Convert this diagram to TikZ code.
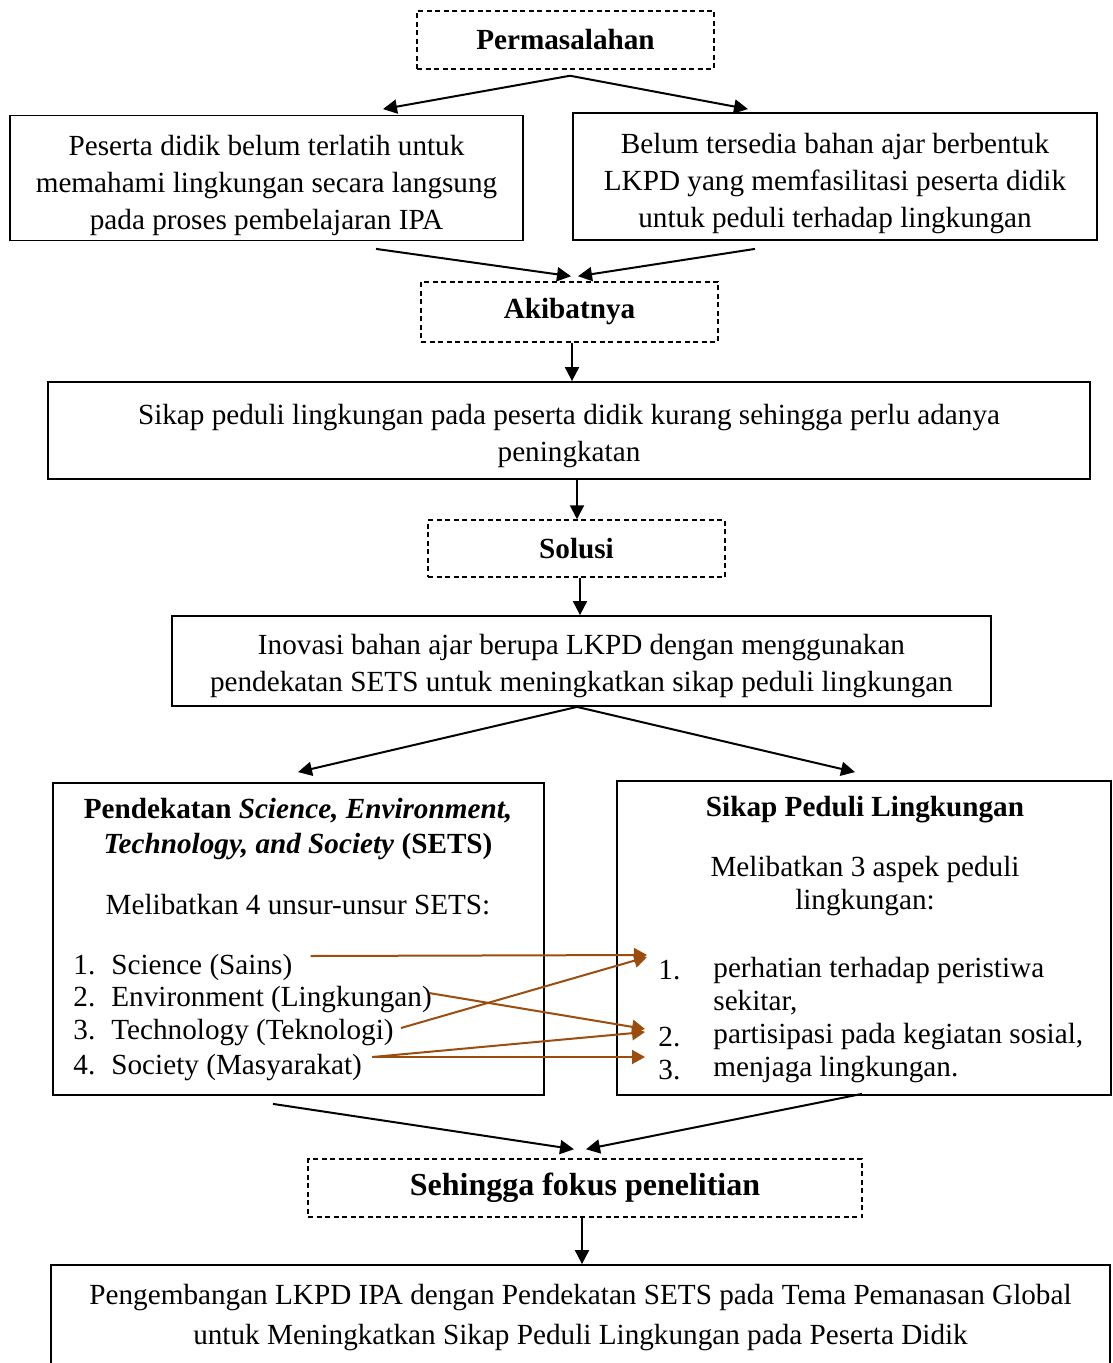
\documentclass[tikz,border=0pt]{standalone}
\usepackage{fontspec}
\setmainfont{Liberation Serif}
\usetikzlibrary{calc,arrows.meta}
\definecolor{coklat}{RGB}{156,77,14}
\newcommand{\turun}[1]{\rule{0pt}{#1}}

\begin{document}
\begin{tikzpicture}[x=0.5pt,y=-0.5pt,
    font=\fontsize{14.6}{18.5}\selectfont,
    kotak/.style={draw, line width=0.9pt, inner sep=0pt, align=center},
    kotakputus/.style={kotak, line width=0.75pt, dash pattern=on 2.5pt off 1.75pt, font=\fontsize{14.6}{18.5}\selectfont\bfseries},
    teks/.style={inner sep=0pt, align=center},
    panahhitam/.style={line width=1pt, -{Triangle[length=7pt,width=7pt]}},
    panahcoklat/.style={line width=1pt, color=coklat, -{Triangle[length=6.5pt,width=7pt]}}]
		%%%%% START %%%%%
		\useasboundingbox (0,0) rectangle (1112,1363);
		
		\node[kotakputus, minimum width=148.5pt, minimum height=29pt] (masalah) at (565.5,40) {Permasalahan};
		
		\node[kotak, minimum width=256.5pt, minimum height=62.5pt] (siswa) at (266.5,178) {\turun{17.5pt}Peserta didik belum terlatih untuk\\memahami lingkungan secara langsung\\pada proses pembelajaran IPA};
		\node[kotak, minimum width=262pt, minimum height=63.5pt] (bahan) at (835,176.5) {\turun{17.5pt}Belum tersedia bahan ajar berbentuk\\LKPD yang memfasilitasi peserta didik\\untuk peduli terhadap lingkungan};
		
		\node[kotakputus, minimum width=148.5pt, minimum height=30pt] (akibat) at (569.5,312) {Akibatnya};
		\node[kotak, minimum width=521pt, minimum height=48.5pt] (sikap) at (569,430.5) {\turun{15.5pt}Sikap peduli lingkungan pada peserta didik kurang sehingga perlu adanya\\peningkatan};
		
		\node[kotakputus, minimum width=148.5pt, minimum height=28.5pt] (solusi) at (576.5,548.5) {Solusi};
		\node[kotak, minimum width=409.5pt, minimum height=45pt] (inovasi) at (581.5,661) {\turun{15.5pt}Inovasi bahan ajar berupa LKPD dengan menggunakan\\pendekatan SETS untuk meningkatkan sikap peduli lingkungan};
		
		% dua kotak besar
		\node[kotak, minimum width=245.5pt, minimum height=156pt] (sets) at (298.5,939) {};
		\node[kotak, minimum width=247pt, minimum height=157pt] (peduli) at (864,938) {};
		
		\node[teks, font=\fontsize{14.6}{17.5}\selectfont\bfseries] (judulsets) at (298,829.5) {Pendekatan \textit{Science, Environment,}\\\textit{Technology, and Society} (SETS)};
		\node[teks] (unsur) at (298,905) {Melibatkan 4 unsur-unsur SETS:};
		\node[teks, anchor=west] (s1) at (73,967) {\makebox[19pt][l]{1.}Science (Sains)};
		\node[teks, anchor=west] (s2) at (73,1000) {\makebox[19pt][l]{2.}Environment (Lingkungan)};
		\node[teks, anchor=west] (s3) at (73,1033) {\makebox[19pt][l]{3.}Technology (Teknologi)};
		\node[teks, anchor=west] (s4) at (73,1068) {\makebox[19pt][l]{4.}Society (Masyarakat)};
		
		\node[teks, font=\fontsize{14.6}{18.5}\selectfont\bfseries] (judulpeduli) at (865,810) {Sikap Peduli Lingkungan};
		\node[teks, font=\fontsize{14.6}{16.5}\selectfont] (aspek) at (865,886.5) {Melibatkan 3 aspek peduli\\lingkungan:};
		\node[teks, anchor=west] (p1) at (658,970) {1.};
		\node[teks, anchor=west] (p2) at (658,1037) {2.};
		\node[teks, anchor=west] (p3) at (658,1070) {3.};
		\node[teks, anchor=west, align=left, font=\fontsize{14.6}{16.5}\selectfont] (p1t) at (713,986.5) {perhatian terhadap peristiwa\\sekitar,};
		\node[teks, anchor=west] (p2t) at (713,1037) {partisipasi pada kegiatan sosial,};
		\node[teks, anchor=west] (p3t) at (713,1070) {menjaga lingkungan.};
		
		\node[kotakputus, minimum width=277pt, minimum height=29pt, font=\fontsize{16}{18}\selectfont\bfseries] (fokus) at (585,1188) {Sehingga fokus penelitian};
		\node[kotak, minimum width=529.5pt, minimum height=52.5pt, font=\fontsize{14.6}{20}\selectfont] (judul) at (580.5,1317.5) {Pengembangan LKPD IPA dengan Pendekatan SETS pada Tema Pemanasan Global\\untuk Meningkatkan Sikap Peduli Lingkungan pada Peserta Didik};
		
		% panah hitam
		\draw[panahhitam] ($(masalah.south)+(4.5,6)$) -- ($(siswa.north)+(116.5,-5.5)$);
		\draw[panahhitam] ($(masalah.south)+(4.5,6)$) -- ($(bahan.north)+(-87,-3)$);
		\draw[panahhitam] ($(siswa.south)+(109.5,7.5)$) -- ($(akibat.north)+(1.5,-5)$);
		\draw[panahhitam] ($(bahan.south)+(-80,8)$) -- ($(akibat.north)+(8.5,-5)$);
		\draw[panahhitam] ([xshift=1.25pt]akibat.south) -- ([xshift=1.25pt]akibat.south |- sikap.north);
		\draw[panahhitam] ([xshift=4pt]sikap.south) -- ([xshift=4pt]sikap.south |- solusi.north);
		\draw[panahhitam] ([xshift=1.75pt]solusi.south) -- ([xshift=1.75pt]solusi.south |- inovasi.north);
		\draw[panahhitam] ($(inovasi.south)+(-4.5,0)$) -- ($(sets.north)+(-0.5,-10)$);
		\draw[panahhitam] ($(inovasi.south)+(-4.5,0)$) -- ($(peduli.north)+(-9,-8)$);
		\draw[panahhitam] ($(sets.south)+(-25.5,8)$) -- ($(fokus.north)+(-11,-9)$);
		\draw[panahhitam] ($(peduli.south)+(-2,-2)$) -- ($(fokus.north)+(1,-9)$);
		\draw[panahhitam] ([xshift=-1.5pt]fokus.south) -- ([xshift=-1.5pt]fokus.south |- judul.north);
		
		% panah coklat
		\draw[panahcoklat] ($(s1.east)+(18,-11)$) -- ($(p1.west)+(-11,-15)$);
		\draw[panahcoklat] ($(s2.east)+(-3,-7)$) -- ($(p2.west)+(-13,-8)$);
		\draw[panahcoklat] ($(s3.east)+(7,-5)$) -- ($(p1.west)+(-11,-13)$);
		\draw[panahcoklat] ($(s4.east)+(10,-11)$) -- ($(p2.west)+(-13,-5)$);
		\draw[panahcoklat] ($(s4.east)+(10,-11)$) -- ($(p3.west)+(-13,-13)$);
		
		%%%%% END %%%%%
\end{tikzpicture}
\end{document}
